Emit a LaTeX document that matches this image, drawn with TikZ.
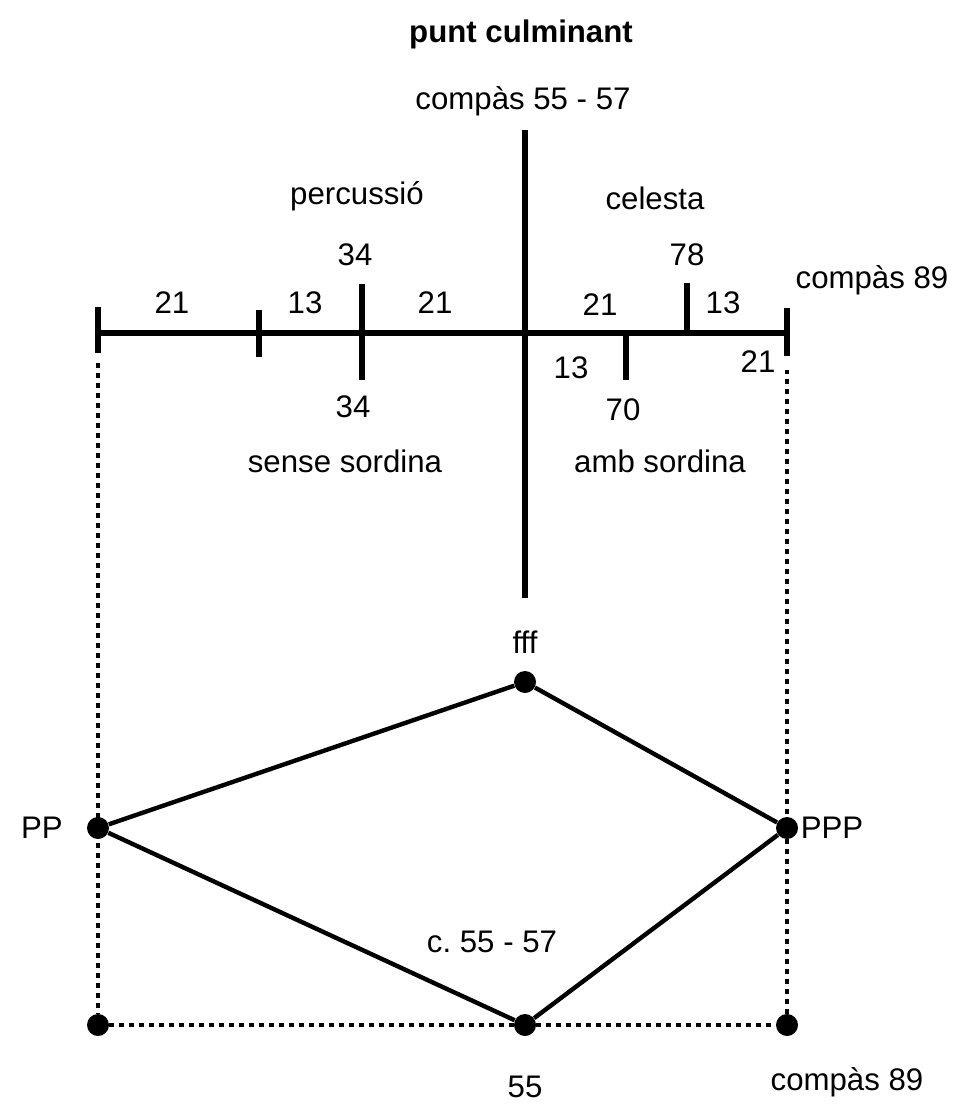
\documentclass[tikz,border=0pt]{standalone}
\usepackage{fontspec}
\setmainfont{Liberation Sans}
\usetikzlibrary{positioning}

\begin{document}
\begin{tikzpicture}[x=0.5pt, y=-0.5pt,
        axis/.style={line width=2.6pt},
        edge/.style={line width=2.2pt},
        guide/.style={line width=2.4pt, dash pattern=on 2.4pt off 2.6pt},
        dot/.style={circle, fill=black, inner sep=0pt, minimum size=11pt},
        lbl/.style={font=\fontsize{15.6}{18}\selectfont, inner sep=1pt}
      ]
        \useasboundingbox (0,0) rectangle (952,1111);

        % time axis
        \coordinate (axL) at (98,333);
        \coordinate (axC) at (525,333);
        \coordinate (axR) at (787,333);
        \coordinate (climTop) at (525,130);
        \coordinate (climBot) at (525,598);
        \draw[axis] (axL) -- (axC) -- (axR);
        \draw[axis] (climTop) -- (climBot);
        \draw[axis] (98,307) -- (98,353);
        \draw[axis] (259,310) -- (259,357);
        \draw[axis] (362,284) -- (362,380);
        \draw[axis] (687,283) -- (axC -| 687,0);
        \draw[axis] (axC -| 626,0) -- (626,380);
        \draw[axis] (787,308) -- (787,356);

        \node[lbl, font=\fontsize{15.6}{18}\selectfont\bfseries] (title) at (521,34) {punt culminant};
        \node[lbl] (cTop) at (523,101) {compàs 55 - 57};
        \node[lbl] (perc) at (357,196) {percussió};
        \node[lbl] (cel)  at (655,198) {celesta};
        \node[lbl] (s21a) at (172,303) {21};
        \node[lbl] (s13a) at (305,303) {13};
        \node[lbl] (n34a) at (355,255) {34};
        \node[lbl] (s21b) at (435,303) {21};
        \node[lbl] (n34b) at (353,407) {34};
        \node[lbl] (s21c) at (600,305) {21};
        \node[lbl] (n78)  at (687,255) {78};
        \node[lbl] (s13b) at (723,303) {13};
        \node[lbl] (cEnd) at (872,280) {compàs 89};
        \node[lbl] (s13c) at (571,368) {13};
        \node[lbl] (n70)  at (623,410) {70};
        \node[lbl] (s21d) at (758,362) {21};
        \node[lbl] (sens) at (345,461) {sense sordina};
        \node[lbl] (amb)  at (660,461) {amb sordina};

        % dynamics
        \node[dot] (fff) at (525,682) {};
        \node[dot] (pp)  at (98,828) {};
        \node[dot] (ppp) at (787,828) {};
        \node[dot] (m55) at (525,1025) {};
        \node[dot] (bl)  at (98,1025) {};
        \node[dot] (br)  at (787,1025) {};
        \draw[edge] (pp) -- (fff) -- (ppp) -- (m55) -- (pp);

        \coordinate (gL) at (98,363);
        \coordinate (gR) at (787,370);
        \draw[guide] (gL) -- (bl) -- (m55) -- (br) -- (gR);

        \node[lbl] (lfff) at (525,642) {fff};
        \node[lbl] (lpp)  at (42,828) {PP};
        \node[lbl] (lppp) at (832,828) {PPP};
        \node[lbl] (lc)   at (492,942) {c.\ 55 - 57};
        \node[lbl] (l55)  at (525,1087) {55};
        \node[lbl] (lend) at (847,1082) {compàs 89};
      \end{tikzpicture}
\end{document}
